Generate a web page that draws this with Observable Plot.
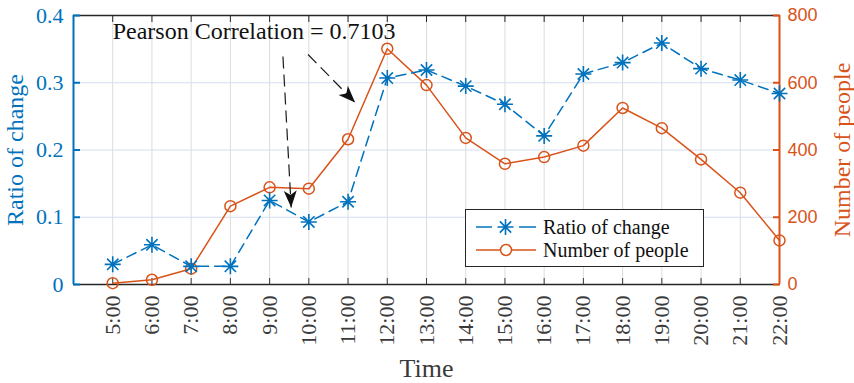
<!DOCTYPE html>
<html><head><meta charset="utf-8">
<script src="https://cdn.jsdelivr.net/npm/d3@7"></script>
<script src="https://cdn.jsdelivr.net/npm/@observablehq/plot@0.6"></script>
<style>
body{margin:0;background:#fff}
#chart{position:relative;width:854px;height:383px}
</style>
</head><body><div id="chart"></div>
<script>
// ---- data ----
const hours = [5,6,7,8,9,10,11,12,13,14,15,16,17,18,19,20,21,22];
const hourLabels = ["5:00","6:00","7:00","8:00","9:00","10:00","11:00","12:00","13:00","14:00","15:00","16:00","17:00","18:00","19:00","20:00","21:00","22:00"];
const ratioOfChange = [0.030,0.059,0.027,0.027,0.125,0.093,0.123,0.307,0.319,0.295,0.268,0.221,0.313,0.330,0.359,0.321,0.304,0.284];
const numberOfPeople = [4,14,47,233,289,285,432,701,593,436,359,379,413,525,465,372,273,131];
const leftTicks = [0,0.1,0.2,0.3,0.4];
const rightTicks = [0,200,400,600,800];
const annotationText = "Pearson Correlation = 0.7103";
// annotation arrows in data units (hour, ratio)
const arrows = [
  {x1: 9.34, y1: 0.339, x2: 9.55, y2: 0.1145},
  {x1: 9.98, y1: 0.342, x2: 11.18, y2: 0.2706}
];

const RIGHT_MAX = 800, LEFT_MAX = 0.4, K = RIGHT_MAX / LEFT_MAX;
const BLUE = "#0072BD", ORANGE = "#D95319", DARK = "#262626";
const SERIF = "Liberation Serif, Times New Roman, serif";
const SANS = "Liberation Sans, Arial, sans-serif";

const rows = hours.map((h, i) => ({h, label: hourLabels[i], r: ratioOfChange[i], p: numberOfPeople[i] / K}));

const asterisk = {
  draw(ctx, size) {
    const r = Math.sqrt(size / Math.PI), d = r * Math.SQRT1_2;
    ctx.moveTo(0, -r); ctx.lineTo(0, r);
    ctx.moveTo(-r, 0); ctx.lineTo(r, 0);
    ctx.moveTo(-d, -d); ctx.lineTo(d, d);
    ctx.moveTo(-d, d); ctx.lineTo(d, -d);
  }
};

const chart = Plot.plot({
  width: 854, height: 383,
  marginLeft: 73, marginRight: 75, marginTop: 15, marginBottom: 99,
  style: {fontFamily: SERIF, background: "#fff", overflow: "visible"},
  x: {type: "linear", domain: [4, 22]},
  y: {domain: [0, LEFT_MAX]},
  marks: [
    Plot.gridX({ticks: hours.slice(0, -1), stroke: "#dcdcdc", strokeOpacity: 1}),
    Plot.gridY({ticks: leftTicks.slice(1, -1), stroke: "#d3dcef", strokeOpacity: 1}),
    Plot.ruleY([0, LEFT_MAX], {stroke: DARK, strokeWidth: 1.5}),
    // bottom x axis
    Plot.axisX({anchor: "bottom", ticks: hours, tickFormat: d => hourLabels[hours.indexOf(d)], tickRotate: -90,
      tickSize: -6, tickPadding: 17, fontSize: 22, fontFamily: SERIF, color: "#3a3a3a", label: null}),
    Plot.axisX({anchor: "top", ticks: hours, tickFormat: () => "", tickSize: -6, color: DARK, label: null}),
    // left axis
    Plot.ruleX([4], {stroke: BLUE, strokeWidth: 2}),
    Plot.axisY({anchor: "left", ticks: leftTicks, tickFormat: d => d === 0 ? "0" : d3.format(".1f")(d),
      tickSize: -7, tickPadding: 17, strokeWidth: 2, fontSize: 22, fontFamily: SERIF, color: BLUE, label: null}),
    // right axis
    Plot.ruleX([22], {stroke: ORANGE, strokeWidth: 2}),
    Plot.axisY({anchor: "right", ticks: rightTicks.map(v => v / K), tickFormat: d => String(Math.round(d * K)),
      tickSize: -7, tickPadding: 15, strokeWidth: 2, fontSize: 18, fontFamily: SANS, color: ORANGE, label: null}),
    // series
    Plot.line(rows, {x: "h", y: "p", stroke: ORANGE, strokeWidth: 1.5}),
    Plot.dot(rows, {x: "h", y: "p", r: 5.5, stroke: ORANGE, fill: "none", strokeWidth: 1.5}),
    Plot.line(rows, {x: "h", y: "r", stroke: BLUE, strokeWidth: 1.5, strokeDasharray: "10,6"}),
    Plot.dot(rows, {x: "h", y: "r", r: 8, symbol: asterisk, stroke: BLUE, fill: "none", strokeWidth: 1.6}),
    // annotation
    Plot.link(arrows, {x1: "x1", y1: "y1", x2: "x2", y2: "y2", stroke: "#1a1a1a", strokeWidth: 1.2,
      strokeDasharray: "12,6", className: "pc-arrow"}),
    Plot.text([annotationText], {x: 5.0, y: 0.376, textAnchor: "start", fontSize: 24, fill: "#111", fontFamily: SERIF}),
    // axis titles
    Plot.text(["Ratio of change"], {frameAnchor: "left", textAnchor: "middle", dx: -58, rotate: -90, fontSize: 24, fill: BLUE, fontFamily: SERIF}),
    Plot.text(["Number of people"], {frameAnchor: "right", textAnchor: "middle", dx: 63, rotate: -90, fontSize: 24, fill: ORANGE, fontFamily: SERIF}),
    Plot.text(["Time"], {frameAnchor: "bottom", dy: 84, lineAnchor: "middle", fontSize: 26, fill: "#3a3a3a", fontFamily: SERIF})
  ]
});

document.getElementById("chart").appendChild(chart);

// arrowheads
const svg = d3.select(chart);
const defs = svg.insert("defs", ":first-child");
defs.append("marker").attr("id", "pc-head").attr("viewBox", "-18 -7 19 14")
  .attr("refX", 0).attr("refY", 0).attr("markerUnits", "userSpaceOnUse")
  .attr("markerWidth", 19).attr("markerHeight", 14).attr("orient", "auto")
  .append("path").attr("d", "M0,0L-17,-6.5L-12.5,0L-17,6.5Z").attr("fill", "#111").attr("stroke", "none");
svg.selectAll(".pc-arrow path").attr("marker-end", "url(#pc-head)");

// legend
const lg = svg.append("g").attr("font-family", SERIF).attr("font-size", 20).attr("text-anchor", "start");
lg.append("rect").attr("x", 465.5).attr("y", 209.5).attr("width", 238).attr("height", 57)
  .attr("fill", "#fff").attr("stroke", DARK).attr("stroke-width", 1);
const legendItems = [
  {label: "Ratio of change", color: BLUE, kind: "star"},
  {label: "Number of people", color: ORANGE, kind: "circle"}
];
legendItems.forEach((it, i) => {
  const cy = 227 + i * 23;
  if (it.kind === "star") {
    lg.append("line").attr("x1", 476).attr("x2", 492).attr("y1", cy).attr("y2", cy).attr("stroke", it.color).attr("stroke-width", 1.5);
    lg.append("line").attr("x1", 519).attr("x2", 536).attr("y1", cy).attr("y2", cy).attr("stroke", it.color).attr("stroke-width", 1.5);
    const p = d3.path(); asterisk.draw(p, Math.PI * 64);
    lg.append("path").attr("d", p.toString()).attr("transform", `translate(505.5,${cy})`).attr("stroke", it.color).attr("stroke-width", 1.6).attr("fill", "none");
  } else {
    lg.append("line").attr("x1", 476).attr("x2", 536).attr("y1", cy).attr("y2", cy).attr("stroke", it.color).attr("stroke-width", 1.5);
    lg.append("circle").attr("cx", 506).attr("cy", cy).attr("r", 5.5).attr("stroke", it.color).attr("stroke-width", 1.5).attr("fill", "#fff");
  }
  lg.append("text").attr("x", 543).attr("y", cy).attr("dy", "0.35em").attr("fill", "#111").text(it.label);
});
</script>
</body></html>
